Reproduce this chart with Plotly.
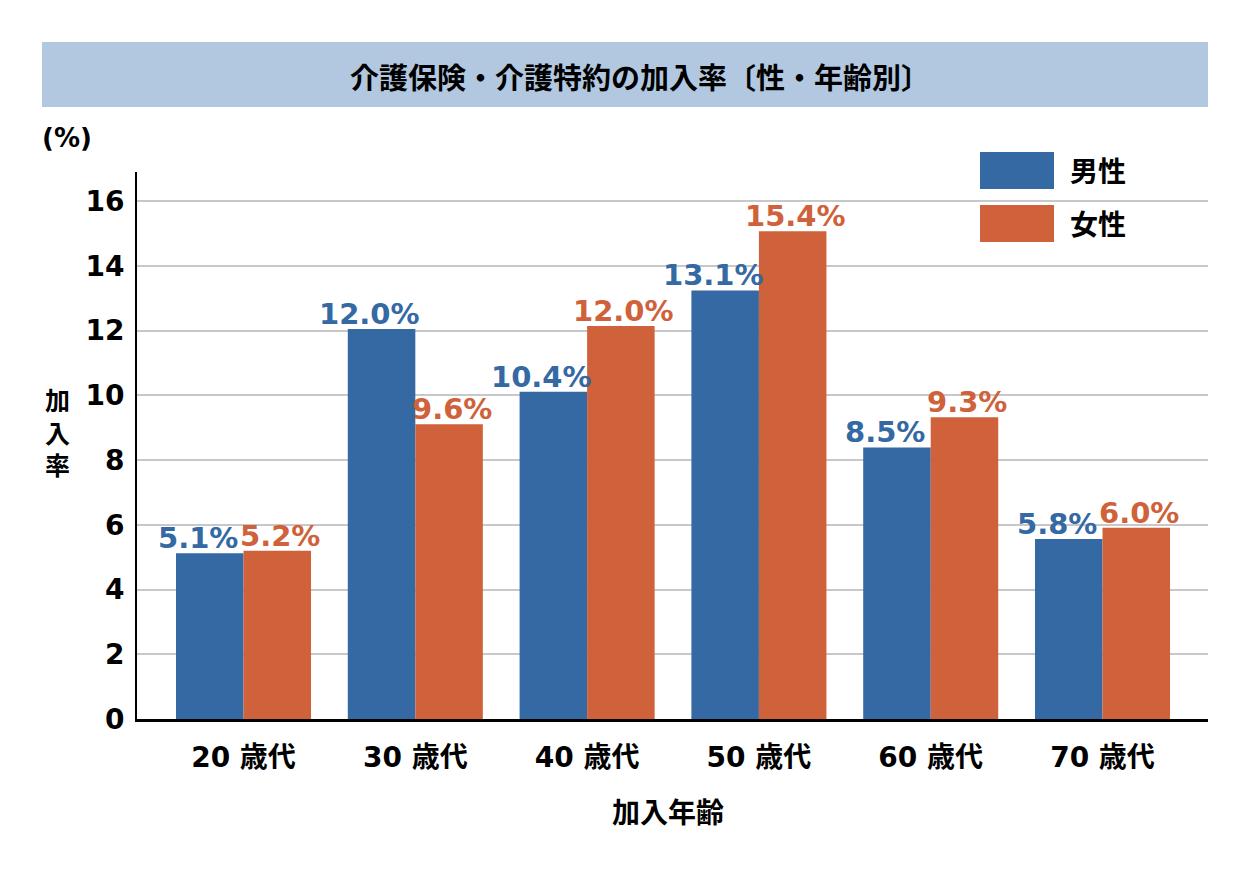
import plotly.graph_objects as go

# --- data ---
age_groups = ["20 歳代", "30 歳代", "40 歳代", "50 歳代", "60 歳代", "70 歳代"]
male_rate = [5.12, 12.05, 10.11, 13.24, 8.39, 5.56]      # bar heights as drawn
female_rate = [5.20, 9.11, 12.14, 15.07, 9.32, 5.91]
male_labels = ["5.1%", "12.0%", "10.4%", "13.1%", "8.5%", "5.8%"]
female_labels = ["5.2%", "9.6%", "12.0%", "15.4%", "9.3%", "6.0%"]
series_names = ["男性", "女性"]

BLUE = "#3469a4"
ORANGE = "#cf623a"
LATIN = "DejaVu Sans, Noto Sans CJK JP, sans-serif"
CJK = "Noto Sans CJK JP, sans-serif"

# page has an 8px body margin, so the figure is a bit smaller and everything
# is placed in page pixels minus that offset
OFF = 8
W, H = 1251 - OFF, 876 - OFF
L, T = 137 - OFF, 172 - OFF
R = W - (1208 - OFF)
B = H - (719 - OFF)
PW, PH = W - L - R, H - T - B
BARGAP = 0.214


def px(x):
    return (x - OFF - L) / PW


def py(y):
    return (H - B - (y - OFF)) / PH


def label(x, y, text, size, family=CJK, color="black", xanchor="center"):
    return dict(xref="paper", yref="paper", x=px(x), y=py(y), text=text,
                showarrow=False, xanchor=xanchor, yanchor="middle",
                font=dict(family=family, size=size, color=color, weight="bold"))


fig = go.Figure()
xs = list(range(len(age_groups)))
fig.add_trace(go.Bar(x=xs, y=male_rate, name=series_names[0],
                     marker=dict(color=BLUE, line=dict(width=0))))
fig.add_trace(go.Bar(x=xs, y=female_rate, name=series_names[1],
                     marker=dict(color=ORANGE, line=dict(width=0))))

# value labels above each bar
off = (1 - BARGAP) / 4
ann = []
for i in xs:
    ann.append(dict(x=i - off, y=male_rate[i], xref="x", yref="y", text=male_labels[i],
                    showarrow=False, xanchor="center", yanchor="bottom", xshift=-12, yshift=-4,
                    font=dict(family=LATIN, size=29, color=BLUE, weight="bold")))
    ann.append(dict(x=i + off, y=female_rate[i], xref="x", yref="y", text=female_labels[i],
                    showarrow=False, xanchor="center", yanchor="bottom", xshift=3, yshift=-4,
                    font=dict(family=LATIN, size=29, color=ORANGE, weight="bold")))

# title band
shapes = [dict(type="rect", xref="paper", yref="paper", x0=px(42), x1=px(1208),
               y0=py(107), y1=py(42), fillcolor="#b1c8e0", line=dict(width=0), layer="below")]
ann.append(label(640, 76, "介護保険・介護特約の加入率〔性・年齢別〕", 29))

# unit + axis titles
ann.append(label(40, 138, "(%)", 26, family=LATIN, xanchor="left"))
ann.append(label(57, 431, "加<br>入<br>率", 25))
ann.append(label(668, 811, "加入年齢", 28))

# legend drawn by hand (big swatches)
for k, (name, col) in enumerate(zip(series_names, [BLUE, ORANGE])):
    y0 = 152 + 53 * k
    shapes.append(dict(type="rect", xref="paper", yref="paper", x0=px(980), x1=px(1054),
                       y0=py(y0 + 37), y1=py(y0), fillcolor=col, line=dict(width=0)))
    ann.append(label(1068, y0 + 18, name, 28, xanchor="left"))

fig.update_layout(
    width=W, height=H,
    margin=dict(l=L, r=R, t=T, b=B),
    barmode="group", bargap=BARGAP, bargroupgap=0,
    showlegend=False,
    plot_bgcolor="white", paper_bgcolor="white",
    shapes=shapes, annotations=ann,
)
fig.update_xaxes(
    range=[-0.62, 5.614], tickvals=xs, ticktext=age_groups,
    showline=True, linecolor="black", linewidth=2.5, showgrid=False, zeroline=False,
    ticks="", ticklabelstandoff=12,
    tickfont=dict(family=LATIN, size=28, color="black", weight="bold"),
)
fig.update_yaxes(
    range=[0, 16.9], dtick=2, tick0=0,
    showline=True, linecolor="black", linewidth=2, zeroline=False,
    showgrid=True, gridcolor="#c8c8c8", gridwidth=2,
    ticks="", ticklabelstandoff=5,
    tickfont=dict(family=LATIN, size=28, color="black", weight="bold"),
)

fig.write_html("out.html", config={"displayModeBar": False})
